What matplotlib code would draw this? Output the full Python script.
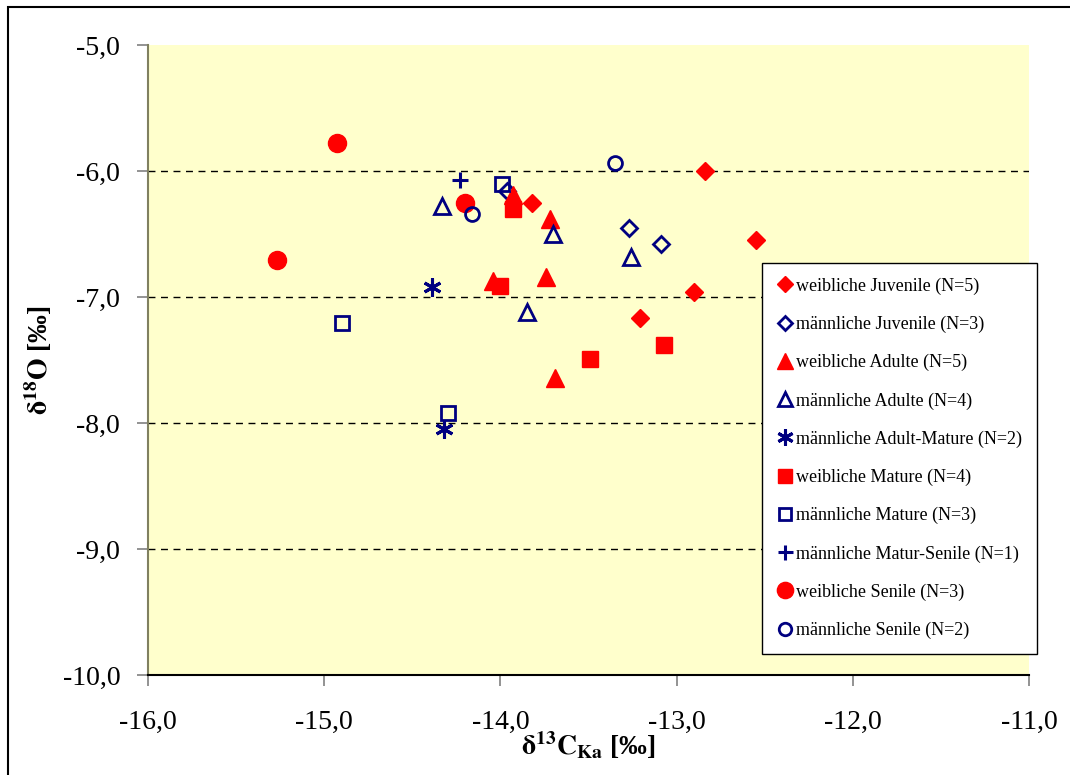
import matplotlib
matplotlib.use('Agg')
import matplotlib.pyplot as plt
from matplotlib.patches import Rectangle
from matplotlib.ticker import FuncFormatter

plt.rcParams['font.family'] = ['Liberation Serif', 'DejaVu Serif']
plt.rcParams['mathtext.fontset'] = 'stix'

# --- data (delta13C, delta18O) per group ---
w_juv_x = [-12.84, -12.55, -12.90, -13.21, -13.82]
w_juv_y = [-6.00, -6.55, -6.96, -7.17, -6.25]
m_juv_x = [-13.27, -13.09, -13.96]
m_juv_y = [-6.45, -6.58, -6.16]
w_adu_x = [-13.93, -13.72, -13.74, -14.04, -13.69]
w_adu_y = [-6.19, -6.38, -6.84, -6.87, -7.64]
m_adu_x = [-14.33, -13.70, -13.26, -13.85]
m_adu_y = [-6.28, -6.50, -6.68, -7.12]
m_adm_x = [-14.39, -14.32]
m_adm_y = [-6.92, -8.05]
w_mat_x = [-13.93, -14.00, -13.49, -13.07]
w_mat_y = [-6.30, -6.91, -7.49, -7.38]
m_mat_x = [-13.99, -14.90, -14.30]
m_mat_y = [-6.10, -7.21, -7.92]
m_ms_x = [-14.23]
m_ms_y = [-6.07]
w_sen_x = [-14.93, -15.27, -14.20]
w_sen_y = [-5.78, -6.71, -6.25]
m_sen_x = [-13.35, -14.16]
m_sen_y = [-5.94, -6.34]

labels = ["weibliche Juvenile (N=5)", "männliche Juvenile (N=3)",
          "weibliche Adulte (N=5)", "männliche Adulte (N=4)",
          "männliche Adult-Mature (N=2)", "weibliche Mature (N=4)",
          "männliche Mature (N=3)", "männliche Matur-Senile (N=1)",
          "weibliche Senile (N=3)", "männliche Senile (N=2)"]

RED = '#FF0000'
NAVY = '#000080'

fig = plt.figure(figsize=(10.7, 7.75), dpi=100)
ax = fig.add_axes([0.1383, 0.129, 0.8234, 0.8129])
ax.set_facecolor('#FFFFCC')

# figure border
fig.patches.append(Rectangle((8 / 1070, -0.05), 1.1, 1 - 7 / 775 + 0.05,
                             transform=fig.transFigure, fill=False,
                             edgecolor='black', linewidth=1.5, zorder=0))

def filled(x, y, m, s, lab):
    ax.plot(x, y, linestyle='none', marker=m, markersize=s, color=RED,
            markeredgecolor=RED, label=lab, zorder=3)

def hollow(x, y, m, s, lab, mew=2.0):
    ax.plot(x, y, linestyle='none', marker=m, markersize=s,
            markerfacecolor='none', markeredgecolor=NAVY, color=NAVY,
            markeredgewidth=mew, label=lab, zorder=3)

filled(w_juv_x, w_juv_y, 'D', 9, labels[0])
hollow(m_juv_x, m_juv_y, 'D', 8, labels[1])
filled(w_adu_x, w_adu_y, '^', 13, labels[2])
hollow(m_adu_x, m_adu_y, '^', 11, labels[3])
ax.plot(m_adm_x, m_adm_y, linestyle='none', marker=(6, 2, 0), markersize=13,
        markeredgecolor=NAVY, markeredgewidth=2.2, label=labels[4], zorder=3)
filled(w_mat_x, w_mat_y, 's', 11, labels[5])
hollow(m_mat_x, m_mat_y, 's', 10, labels[6])
ax.plot(m_ms_x, m_ms_y, linestyle='none', marker='+', markersize=12,
        markeredgecolor=NAVY, markeredgewidth=2.2, label=labels[7], zorder=3)
filled(w_sen_x, w_sen_y, 'o', 13, labels[8])
hollow(m_sen_x, m_sen_y, 'o', 10, labels[9])

ax.set_xlim(-16, -11)
ax.set_ylim(-10, -5)
ax.set_xticks([-16, -15, -14, -13, -12, -11])
ax.set_yticks([-10, -9, -8, -7, -6, -5])
fmt = FuncFormatter(lambda v, p: f"{v:.1f}".replace('.', ','))
ax.xaxis.set_major_formatter(fmt)
ax.yaxis.set_major_formatter(fmt)

for y in [-9, -8, -7, -6]:
    ax.axhline(y, color='black', linestyle=(0, (5, 4)), linewidth=1.0, zorder=1)

for s in ['top', 'right']:
    ax.spines[s].set_visible(False)
ax.spines['left'].set_color('#808060')
ax.spines['left'].set_linewidth(1.5)
ax.spines['bottom'].set_color('black')
ax.spines['bottom'].set_linewidth(1.5)
ax.tick_params(axis='both', direction='out', length=8, width=1.2,
               color='#808080', labelsize=20)
ax.tick_params(axis='x', pad=17)
ax.tick_params(axis='y', pad=12)

ax.set_xlabel(r'$\mathbf{\delta^{13}C_{Ka}}$ [‰]', fontsize=20,
              fontweight='bold', labelpad=-4)
ax.set_ylabel(r'$\mathbf{\delta^{18}O}$ [‰]', fontsize=20,
              fontweight='bold', labelpad=6)

leg = ax.legend(loc='upper left', bbox_to_anchor=(762 / 1070, 1 - 263 / 775),
                bbox_transform=fig.transFigure, fontsize=13,
                labelspacing=1.16, handlelength=1.0, handletextpad=0.1,
                borderpad=0.8, borderaxespad=0, frameon=True, fancybox=False,
                markerscale=0.9)
leg.get_frame().set_edgecolor('black')
leg.get_frame().set_linewidth(1.0)
leg.get_frame().set_facecolor('white')
leg.get_frame().set_alpha(1)
leg.set_zorder(5)

fig.savefig('out.png', dpi=100)
